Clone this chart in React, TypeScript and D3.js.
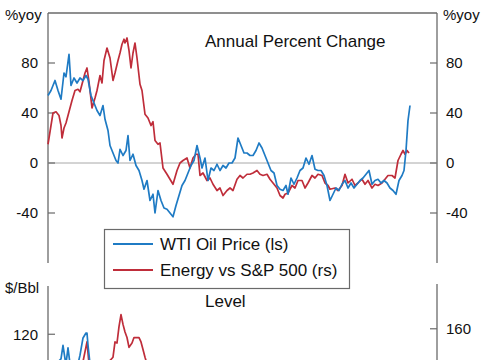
import * as d3 from "d3";

// week index since start of chart, value
const wtiYoy: [number, number][] = [
  [0, 54], [3, 58], [7, 66], [10, 58], [13, 51], [16, 72], [18, 69], [21, 87], [23, 62], [26, 68],
  [29, 64], [32, 68], [35, 66], [38, 70], [40, 67], [43, 54], [46, 48], [49, 42], [52, 38], [55, 46],
  [57, 35], [60, 26], [62, 14], [65, 8], [68, 2], [70, 0], [72, 11], [75, 6], [78, 10], [80, 22],
  [82, 2], [85, 7], [88, -2], [91, -6], [94, -14], [96, -21], [99, -14], [102, -30], [105, -25], [107, -40],
  [110, -22], [113, -30], [116, -36], [119, -37], [122, -40], [125, -43], [128, -34], [131, -26], [134, -18], [137, -14],
  [140, -8], [143, -2], [146, 2], [149, 14], [152, 4], [154, -4], [157, 4], [160, -14], [163, -4], [166, -6],
  [169, -1], [172, -6], [175, -2], [178, -4], [181, 0], [184, 0], [187, 4], [190, 20], [193, 14], [196, 8],
  [199, 8], [202, 6], [205, 6], [208, 10], [211, 16], [214, 12], [217, 6], [220, 0], [223, -6], [226, -8],
  [229, -18], [232, -21], [235, -22], [238, -18], [240, -25], [243, -12], [246, -17], [249, -12], [252, -6], [255, -4],
  [258, 4], [261, -1], [264, 6], [267, -5], [270, -6], [273, -6], [276, -10], [279, -18], [282, -30], [285, -25],
  [288, -20], [291, -22], [294, -17], [297, -14], [300, -20], [303, -16], [306, -20], [309, -17], [312, -14], [315, -12],
  [318, -9], [321, -6], [324, -17], [327, -14], [330, -13], [333, -16], [336, -14], [339, -16], [342, -20], [345, -22],
  [348, -25], [351, -14], [354, -10], [356, -6], [358, 10], [360, 34], [362, 46],
];

const energyYoy: [number, number][] = [
  [0, 15], [3, 30], [5, 40], [8, 41], [11, 38], [13, 30], [14, 20], [16, 28], [18, 32], [20, 38],
  [22, 44], [24, 50], [27, 58], [30, 59], [32, 57], [35, 66], [37, 72], [39, 76], [41, 65], [44, 44],
  [47, 52], [49, 58], [52, 70], [54, 64], [56, 82], [59, 92], [62, 84], [65, 66], [67, 72], [70, 82],
  [72, 88], [74, 95], [76, 99], [77, 96], [79, 100], [81, 90], [83, 76], [85, 88], [87, 96], [89, 84],
  [92, 63], [94, 58], [97, 39], [100, 36], [103, 30], [105, 33], [107, 18], [110, 15], [112, 16], [115, -4],
  [119, -9], [122, -13], [125, -17], [129, -6], [132, 0], [135, 2], [139, 4], [142, -4], [145, 4], [148, 7],
  [150, 7], [152, -10], [155, -8], [159, -14], [162, -12], [165, -17], [169, -22], [172, -20], [175, -26], [179, -22],
  [182, -20], [185, -22], [189, -13], [192, -10], [195, -12], [199, -9], [202, -9], [205, -8], [209, -6], [212, -9],
  [215, -10], [219, -9], [222, -13], [225, -16], [229, -20], [232, -26], [235, -28], [237, -25], [240, -24], [244, -18],
  [247, -20], [250, -14], [254, -14], [257, -20], [260, -16], [264, -10], [267, -12], [270, -9], [274, -10], [277, -16],
  [280, -18], [282, -21], [287, -20], [290, -22], [294, -18], [297, -9], [300, -16], [304, -13], [307, -18], [310, -16],
  [314, -13], [317, -17], [320, -14], [324, -20], [327, -17], [330, -18], [334, -16], [337, -13], [340, -10], [344, -10],
  [347, -12], [350, 2], [353, 7], [355, 10], [357, 7], [359, 10], [361, 8],
];

// level panel, only the top of it is in view
const wtiLevel: [number, number][] = [
  [0, 92], [8, 96], [13, 100], [15, 111], [17, 100], [18, 96], [20, 109], [22, 96], [26, 90],
  [30, 96], [32, 103], [35, 117], [38, 121], [39, 121], [40, 111], [42, 96], [50, 84], [60, 75],
];

const energyLevel: [number, number][] = [
  [0, 118], [25, 124], [35, 130], [39, 148], [41, 128], [55, 124], [65, 134], [67, 148], [69, 147],
  [71, 162], [73, 173], [75, 164], [77, 157], [79, 152], [81, 143], [84, 147], [86, 152], [89, 152],
  [91, 152], [93, 148], [95, 141], [97, 134], [99, 128], [115, 118],
];

const yoyTicks = [-40, 0, 40, 80];
const levelLeftTicks = [120];
const levelRightTicks = [160];

const BLUE = "#1f7bc4";
const RED = "#bf2d3a";
const AXIS = "#6a6a6a";

export default function App() {
  const left = 48;
  const right = 437;
  const x = d3.scaleLinear().domain([0, 389]).range([left, right]);

  const yTop = d3.scaleLinear().domain([-80, 120]).range([263, 13]);
  const yLevelL = d3.scaleLinear().domain([0, 160]).range([482, 285]);
  const yLevelR = d3.scaleLinear().domain([20, 200]).range([482, 285]);

  const lineTop = d3.line<[number, number]>().x((d) => x(d[0])).y((d) => yTop(d[1]));
  const lineL = d3.line<[number, number]>().x((d) => x(d[0])).y((d) => yLevelL(d[1]));
  const lineR = d3.line<[number, number]>().x((d) => x(d[0])).y((d) => yLevelR(d[1]));

  const font = "'Liberation Sans', Arial, sans-serif";

  return (
    <div style={{ position: "absolute", left: 0, top: 0 }}>
      <svg width={485} height={360} style={{ display: "block", background: "#fff" }} fontFamily={font}>
        {/* top panel frame */}
        <line x1={left} x2={right} y1={13} y2={13} stroke={AXIS} strokeWidth={1.3} />
        <line x1={left} x2={left} y1={13} y2={263} stroke={AXIS} strokeWidth={1.3} />
        <line x1={right} x2={right} y1={13} y2={263} stroke={AXIS} strokeWidth={1.3} />
        <line x1={left} x2={right} y1={yTop(0)} y2={yTop(0)} stroke="#a8a8a8" strokeWidth={1} />
        {yoyTicks.map((t) => (
          <g key={"t" + t} fontSize={15} fill="#111">
            <line x1={left} x2={left + 7} y1={yTop(t)} y2={yTop(t)} stroke={AXIS} strokeWidth={1.2} />
            <line x1={right - 7} x2={right} y1={yTop(t)} y2={yTop(t)} stroke={AXIS} strokeWidth={1.2} />
            <text x={38} y={yTop(t)} dy="0.36em" textAnchor="end">{t}</text>
            <text x={446} y={yTop(t)} dy="0.36em">{t}</text>
          </g>
        ))}
        <text x={5} y={20} fontSize={15} fill="#111">%yoy</text>
        <text x={443} y={20} fontSize={15} fill="#111">%yoy</text>
        <text x={205} y={47} fontSize={17} fill="#111">Annual Percent Change</text>

        <path d={lineTop(energyYoy) ?? ""} fill="none" stroke={RED} strokeWidth={1.7} strokeLinejoin="round" />
        <path d={lineTop(wtiYoy) ?? ""} fill="none" stroke={BLUE} strokeWidth={1.7} strokeLinejoin="round" />

        {/* bottom panel */}
        <line x1={left} x2={left} y1={286} y2={360} stroke={AXIS} strokeWidth={1.3} />
        <line x1={right} x2={right} y1={284} y2={360} stroke={AXIS} strokeWidth={1.3} />
        {levelLeftTicks.map((t) => (
          <g key={"l" + t} fontSize={15} fill="#111">
            <line x1={left} x2={left + 7} y1={yLevelL(t)} y2={yLevelL(t)} stroke={AXIS} strokeWidth={1.2} />
            <text x={38} y={yLevelL(t)} dy="0.36em" textAnchor="end">{t}</text>
          </g>
        ))}
        {levelRightTicks.map((t) => (
          <g key={"r" + t} fontSize={15} fill="#111">
            <line x1={right - 7} x2={right} y1={yLevelR(t)} y2={yLevelR(t)} stroke={AXIS} strokeWidth={1.2} />
            <text x={446} y={yLevelR(t)} dy="0.36em">{t}</text>
          </g>
        ))}
        <text x={5} y={293} fontSize={15} fill="#111">$/Bbl</text>
        <text x={205} y={307} fontSize={17} fill="#111">Level</text>
        <path d={lineR(energyLevel) ?? ""} fill="none" stroke={RED} strokeWidth={1.7} strokeLinejoin="round" />
        <path d={lineL(wtiLevel) ?? ""} fill="none" stroke={BLUE} strokeWidth={1.7} strokeLinejoin="round" />

        {/* legend */}
        <rect x={104.5} y={229.5} width={245} height={59} fill="#fff" stroke={AXIS} strokeWidth={1.2} />
        <line x1={113} x2={153} y1={244} y2={244} stroke={BLUE} strokeWidth={1.8} />
        <line x1={113} x2={153} y1={270} y2={270} stroke={RED} strokeWidth={1.8} />
        <text x={160} y={250} fontSize={17} fill="#111">WTI Oil Price (ls)</text>
        <text x={160} y={276} fontSize={17} fill="#111">Energy vs S&amp;P 500 (rs)</text>
      </svg>
    </div>
  );
}
